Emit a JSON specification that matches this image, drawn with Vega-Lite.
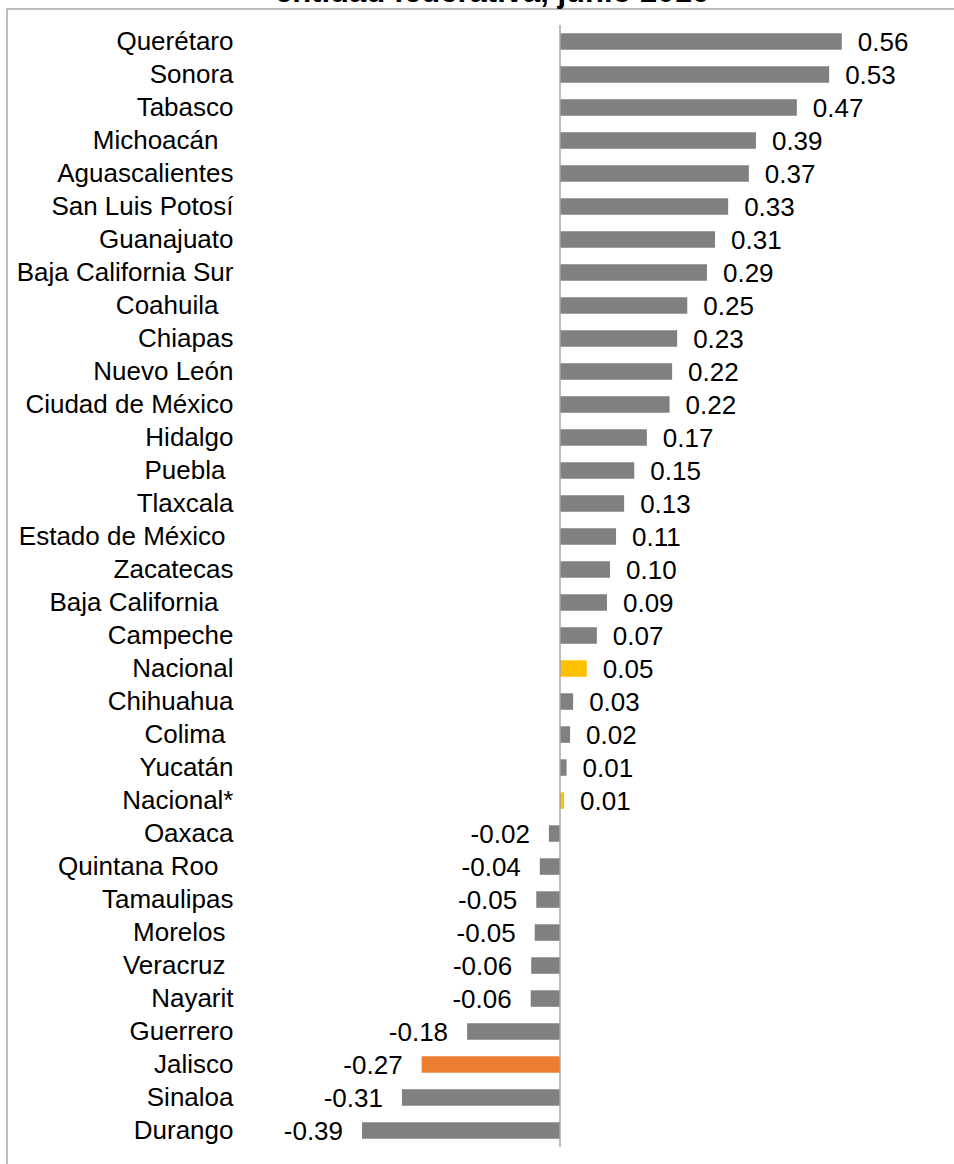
{
  "$schema": "https://vega.github.io/schema/vega-lite/v6.json",
  "autosize": "none",
  "padding": {"left": 7, "top": 9, "right": 0, "bottom": 0},
  "width": 1000,
  "height": 1171.5,
  "background": "white",
  "title": {
    "text": "entidad federativa, junio 2016",
    "fontSize": 31,
    "fontWeight": "bold",
    "font": "Liberation Sans",
    "color": "#000000",
    "anchor": "middle",
    "frame": "group",
    "dx": -15,
    "offset": -23.5,
    "baseline": "alphabetic"
  },
  "config": {
    "view": {"stroke": "#a6a6a6", "strokeWidth": 1.5},
    "font": "Liberation Sans",
    "locale": {"number": {"decimal": ".", "thousands": ",", "grouping": [3], "currency": ["$", ""], "minus": "-"}}
  },
  "data": {
    "values": [
      {"entidad": "Querétaro", "valor": 0.558},
      {"entidad": "Sonora", "valor": 0.533},
      {"entidad": "Tabasco", "valor": 0.469},
      {"entidad": "Michoacán", "valor": 0.388},
      {"entidad": "Aguascalientes", "valor": 0.374},
      {"entidad": "San Luis Potosí", "valor": 0.333},
      {"entidad": "Guanajuato", "valor": 0.307},
      {"entidad": "Baja California Sur", "valor": 0.291},
      {"entidad": "Coahuila", "valor": 0.252},
      {"entidad": "Chiapas", "valor": 0.232},
      {"entidad": "Nuevo León", "valor": 0.222},
      {"entidad": "Ciudad de México", "valor": 0.217},
      {"entidad": "Hidalgo", "valor": 0.172},
      {"entidad": "Puebla", "valor": 0.147},
      {"entidad": "Tlaxcala", "valor": 0.127},
      {"entidad": "Estado de México", "valor": 0.111},
      {"entidad": "Zacatecas", "valor": 0.099},
      {"entidad": "Baja California", "valor": 0.093},
      {"entidad": "Campeche", "valor": 0.073},
      {"entidad": "Nacional", "valor": 0.053},
      {"entidad": "Chihuahua", "valor": 0.026},
      {"entidad": "Colima", "valor": 0.02},
      {"entidad": "Yucatán", "valor": 0.013},
      {"entidad": "Nacional*", "valor": 0.008},
      {"entidad": "Oaxaca", "valor": -0.022},
      {"entidad": "Quintana Roo", "valor": -0.04},
      {"entidad": "Tamaulipas", "valor": -0.047},
      {"entidad": "Morelos", "valor": -0.05},
      {"entidad": "Veracruz", "valor": -0.057},
      {"entidad": "Nayarit", "valor": -0.058},
      {"entidad": "Guerrero", "valor": -0.184},
      {"entidad": "Jalisco", "valor": -0.274},
      {"entidad": "Sinaloa", "valor": -0.313},
      {"entidad": "Durango", "valor": -0.392}
    ]
  },
  "encoding": {
    "y": {
      "field": "entidad",
      "type": "nominal",
      "sort": null,
      "scale": {"paddingInner": 0.5, "paddingOuter": 1, "align": 0.368, "round": false},
      "axis": {
        "title": null,
        "domain": false,
        "ticks": false,
        "labelPadding": {
          "condition": [
            {"test": "datum.value === 'Michoacán' || datum.value === 'Coahuila' || datum.value === 'Baja California' || datum.value === 'Quintana Roo'", "value": 15},
            {"test": "datum.value === 'Puebla' || datum.value === 'Estado de México' || datum.value === 'Colima' || datum.value === 'Morelos' || datum.value === 'Veracruz'", "value": 8}
          ],
          "value": 0
        },
        "offset": -226,
        "labelFont": "Liberation Sans",
        "labelFontSize": 26,
        "labelColor": "#000000",
        "labelLimit": 600
      }
    },
    "x": {
      "field": "valor",
      "type": "quantitative",
      "scale": {"domain": [-1.09505, 0.88515], "nice": false},
      "axis": null
    }
  },
  "layer": [
    {
      "mark": {"type": "bar"},
      "encoding": {
        "color": {
          "condition": [
            {"test": "datum.entidad === 'Nacional' || datum.entidad === 'Nacional*'", "value": "#FFC000"},
            {"test": "datum.entidad === 'Jalisco'", "value": "#ED7D31"}
          ],
          "value": "#808080"
        }
      }
    },
    {
      "transform": [{"filter": "datum.valor >= 0"}],
      "mark": {"type": "text", "align": "left", "baseline": "middle", "dx": 16, "dy": 1.5, "fontSize": 26, "font": "Liberation Sans", "color": "#000000"},
      "encoding": {"text": {"field": "valor", "type": "quantitative", "format": ".2f"}}
    },
    {
      "transform": [{"filter": "datum.valor < 0"}],
      "mark": {"type": "text", "align": "right", "baseline": "middle", "dx": -19, "dy": 1.5, "fontSize": 26, "font": "Liberation Sans", "color": "#000000"},
      "encoding": {"text": {"field": "valor", "type": "quantitative", "format": ".2f"}}
    },
    {
      "mark": {"type": "tick", "color": "#a6a6a6", "thickness": 1.5, "size": 33, "opacity": 1},
      "encoding": {"x": {"datum": 0}}
    }
  ]
}
